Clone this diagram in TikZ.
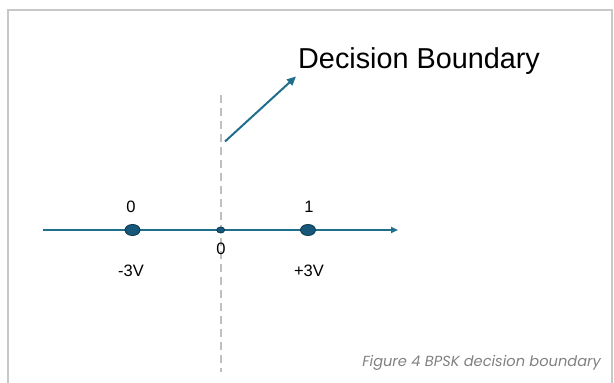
\documentclass[tikz,border=0pt]{standalone}
\usepackage{fontspec}
\setmainfont{Liberation Sans}
\newfontfamily\capfont{Poppins}
\usetikzlibrary{arrows.meta,shapes.geometric}
\definecolor{teal1}{HTML}{1F6E8C}
\definecolor{dotfill}{HTML}{17587A}
\definecolor{dotline}{HTML}{0E3A52}
\definecolor{frame}{HTML}{C8C8C8}
\definecolor{dashgray}{HTML}{BFBFBF}
\definecolor{capgray}{HTML}{808080}
\tikzset{
  axisline/.style={draw=teal1, line width=1.8pt, -{Triangle[length=7pt,width=6pt]}},
  thickseg/.style={draw=teal1, line width=2.8pt},
  bigdot/.style={ellipse, draw=dotline, fill=dotfill, line width=0.9pt, minimum width=15pt, minimum height=11pt, inner sep=0pt},
  smalldot/.style={ellipse, draw=dotline, fill=dotfill, line width=0.8pt, minimum width=8pt, minimum height=6pt, inner sep=0pt},
  lbl/.style={font=\fontsize{16.5}{19}\selectfont, text=black, inner sep=0pt},
  boundary/.style={draw=dashgray, line width=2.2pt, dash pattern=on 8pt off 5pt},
  pointer/.style={draw=teal1, line width=2pt, -{Triangle[length=9pt,width=8pt]}}
}
\begin{document}
\begin{tikzpicture}[x=1pt,y=-1pt]
\useasboundingbox (0,0) rectangle (614,383);
% frame
\draw[frame, line width=1.5pt] (8,383) -- (8,10) -- (612,10) -- (612,383);
% decision boundary dashed line
\coordinate (bt) at (221,95);
\coordinate (bb) at (221,372);
\draw[boundary] (bt) -- (bb);
% axis
\coordinate (ax0) at (43,230);
\coordinate (ax1) at (398,230);
\coordinate (th0) at (82,230);
\coordinate (th1) at (358,230);
\draw[axisline] (ax0) -- (ax1);
\draw[thickseg] (th0) -- (th1);
% dots
\node[bigdot] (m3) at (132.5,230) {};
\node[smalldot] (z) at (220.7,230) {};
\node[bigdot] (p3) at (308,230) {};
% labels
\node[lbl] (b0) at (131,207) {0};
\node[lbl] (b1) at (309,207) {1};
\node[lbl] (c0) at (221,249) {0};
\node[lbl] (vm) at (131,271) {-3V};
\node[lbl] (vp) at (309,271) {+3V};
% decision boundary label
\node[anchor=base west, inner sep=0pt, font=\fontsize{28.8}{34}\selectfont] (db) at (298,68) {Decision Boundary};
\coordinate (ps) at (225,141.5);
\coordinate (pe) at (296,76.5);
\draw[pointer] (ps) -- (pe);
% caption
\node[anchor=base east, inner sep=0pt, text=capgray, font=\capfont\fontsize{14.6}{17}\selectfont\itshape] (cap) at (601,366) {Figure 4 BPSK decision boundary};
\end{tikzpicture}
\end{document}
